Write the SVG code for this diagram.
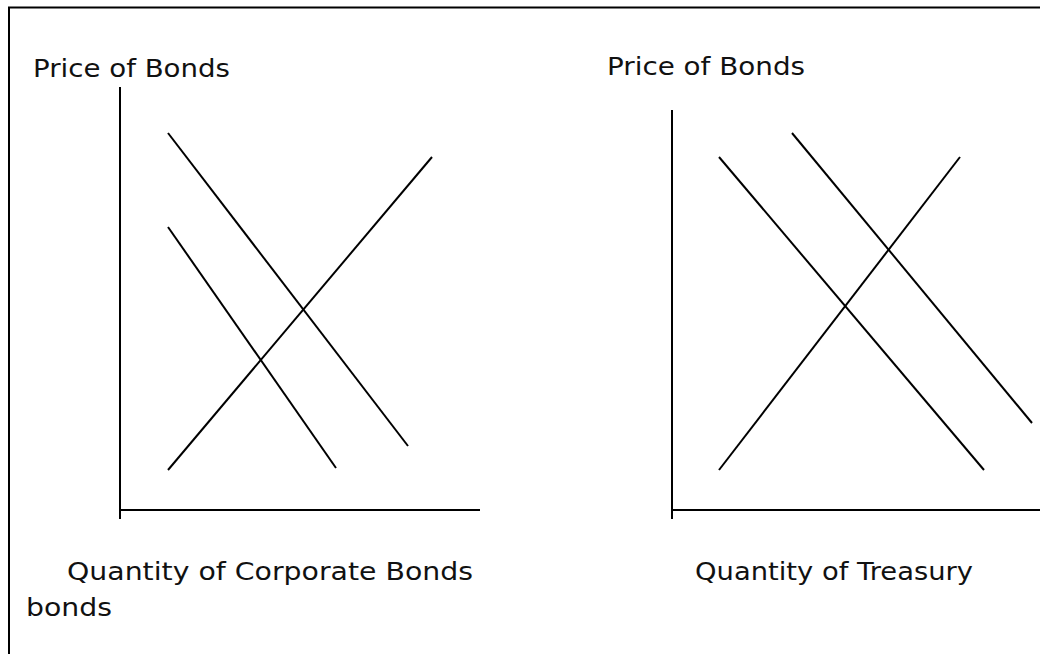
<svg xmlns="http://www.w3.org/2000/svg" width="1040" height="654" viewBox="0 0 1040 654">
<style>
.ln{stroke:#000;stroke-width:2;fill:none}
.ax{stroke:#000;stroke-width:2;fill:none}
.t{font-family:"DejaVu Sans","Liberation Sans",sans-serif;font-size:24px;fill:#111}
</style>
<rect x="0" y="0" width="1040" height="654" fill="#fff"/>
<rect x="9" y="7.5" width="1100" height="700" class="ax"/>
<g id="left-chart">
<line class="ax" x1="120" y1="87" x2="120" y2="519"/>
<line class="ax" x1="120" y1="510" x2="480" y2="510"/>
<text class="t" x="33" y="77" textLength="197" lengthAdjust="spacingAndGlyphs">Price of Bonds</text>
<text class="t" x="67" y="580" textLength="406" lengthAdjust="spacingAndGlyphs">Quantity of Corporate Bonds</text>
<text class="t" x="26" y="616" textLength="86" lengthAdjust="spacingAndGlyphs">bonds</text>
</g>
<g id="right-chart">
<line class="ax" x1="672" y1="110" x2="672" y2="519"/>
<line class="ax" x1="672" y1="510" x2="1040" y2="510"/>
<text class="t" x="607" y="75" textLength="198" lengthAdjust="spacingAndGlyphs">Price of Bonds</text>
<text class="t" x="695" y="580" textLength="278" lengthAdjust="spacingAndGlyphs">Quantity of Treasury</text>
</g>
<g id="connectors">
<line class="ln" x1="168" y1="133" x2="408" y2="446"/>
<line class="ln" x1="168" y1="227" x2="336" y2="468"/>
<line class="ln" x1="432" y1="157" x2="168" y2="470"/>
<line class="ln" x1="719" y1="157" x2="984" y2="470"/>
<line class="ln" x1="792" y1="133" x2="1032" y2="423"/>
<line class="ln" x1="960" y1="157" x2="719" y2="470"/>
</g>
</svg>
